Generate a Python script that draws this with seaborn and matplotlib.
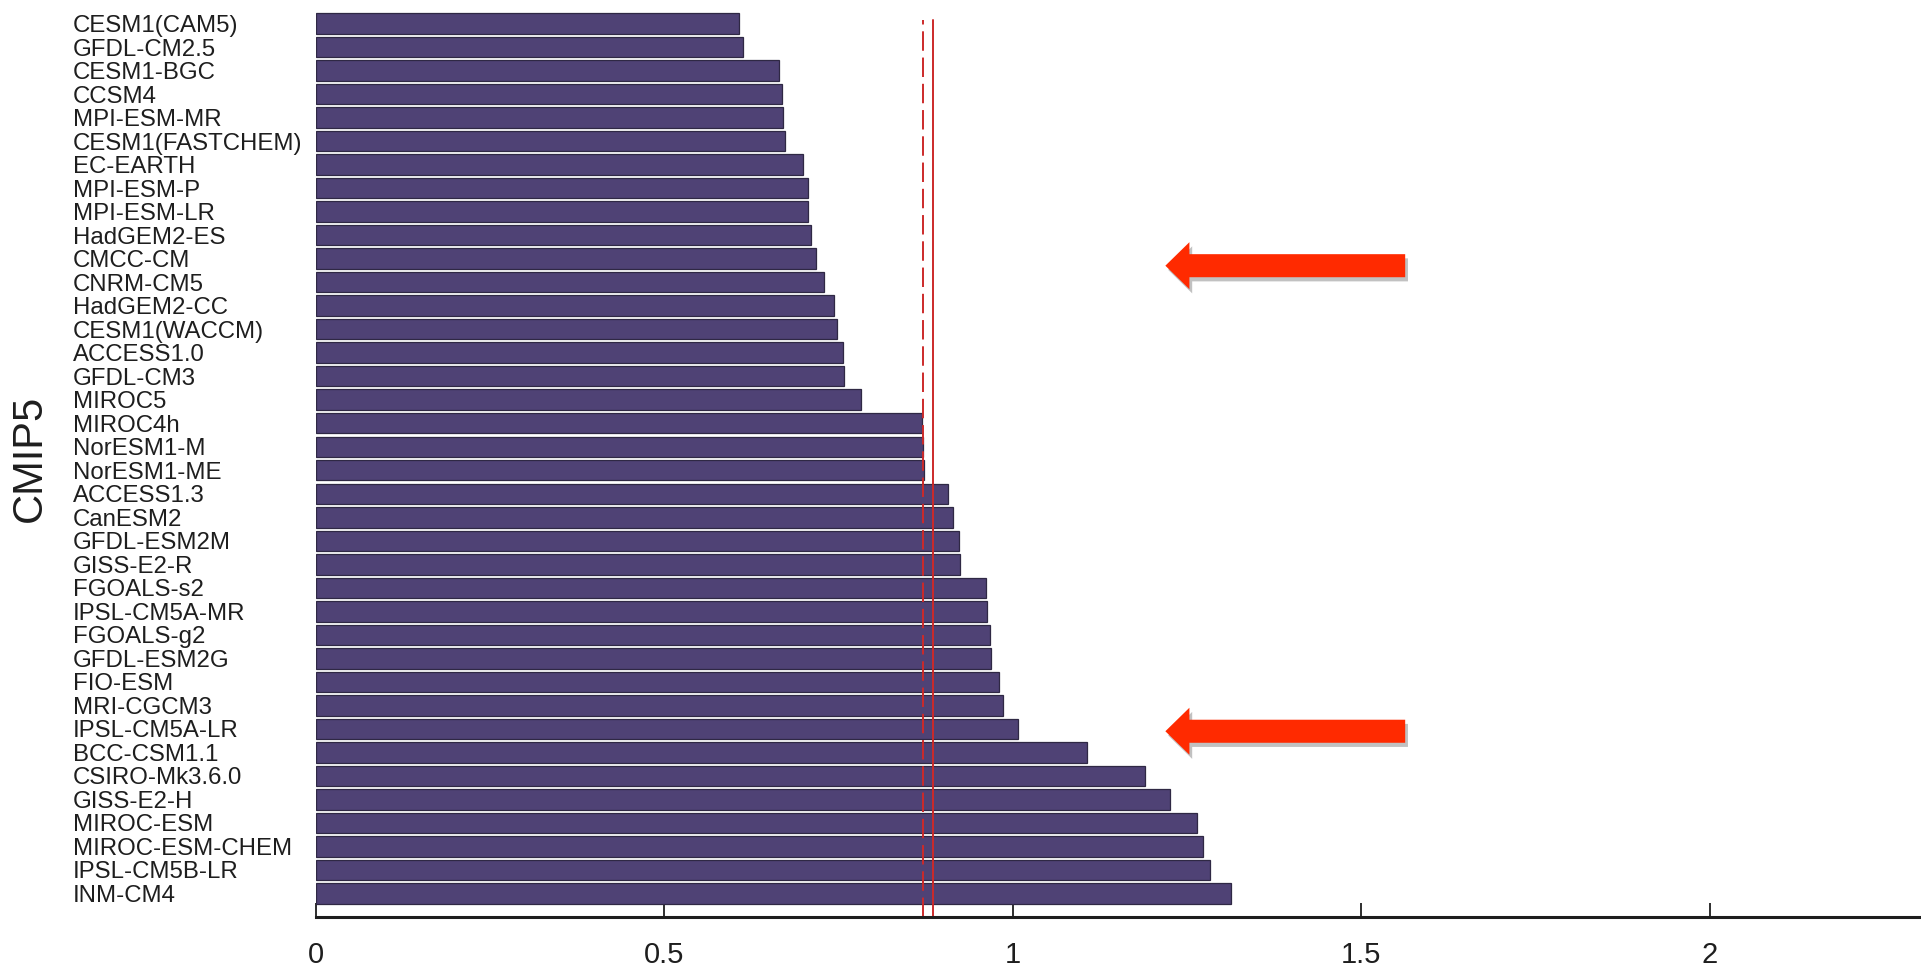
import matplotlib
matplotlib.use("Agg")
import matplotlib.pyplot as plt
import matplotlib.patheffects as pe
from matplotlib.patches import FancyArrow
import seaborn as sns
import pandas as pd

# ---------------- data ----------------
models = [
    "CESM1(CAM5)", "GFDL-CM2.5", "CESM1-BGC", "CCSM4", "MPI-ESM-MR",
    "CESM1(FASTCHEM)", "EC-EARTH", "MPI-ESM-P", "MPI-ESM-LR", "HadGEM2-ES",
    "CMCC-CM", "CNRM-CM5", "HadGEM2-CC", "CESM1(WACCM)", "ACCESS1.0",
    "GFDL-CM3", "MIROC5", "MIROC4h", "NorESM1-M", "NorESM1-ME",
    "ACCESS1.3", "CanESM2", "GFDL-ESM2M", "GISS-E2-R", "FGOALS-s2",
    "IPSL-CM5A-MR", "FGOALS-g2", "GFDL-ESM2G", "FIO-ESM", "MRI-CGCM3",
    "IPSL-CM5A-LR", "BCC-CSM1.1", "CSIRO-Mk3.6.0", "GISS-E2-H", "MIROC-ESM",
    "MIROC-ESM-CHEM", "IPSL-CM5B-LR", "INM-CM4",
]
values = [
    0.607, 0.613, 0.665, 0.669, 0.670,
    0.674, 0.699, 0.706, 0.707, 0.711,
    0.718, 0.730, 0.743, 0.748, 0.756,
    0.758, 0.783, 0.870, 0.872, 0.873,
    0.907, 0.915, 0.923, 0.924, 0.962,
    0.963, 0.968, 0.969, 0.980, 0.986,
    1.008, 1.107, 1.190, 1.225, 1.264,
    1.273, 1.283, 1.313,
]
xticks = [0, 0.5, 1, 1.5, 2]
xtick_labels = ["0", "0.5", "1", "1.5", "2"]
dashed_ref = 0.872   # dashed red reference line
solid_ref = 0.886    # solid red reference line
# arrows: (tail x, tip x, y position in bar-index units)
arrow_tail_x = [1.563, 1.563]
arrow_tip_x = [1.219, 1.219]
arrow_y = [10.3, 30.1]
ylabel = "CMIP5"

# ---------------- style ----------------
sns.set_theme(style="white")
plt.rcParams["font.family"] = ["Liberation Sans", "DejaVu Sans"]

W, H = 1921, 968
fig = plt.figure(figsize=(W / 100, H / 100), dpi=100)
ax = fig.add_axes([315.5 / W, 1 - 917 / H, (1919 - 315.5) / W, 917 / H])

df = pd.DataFrame({"model": models, "value": values})
sns.barplot(data=df, x="value", y="model", orient="h", ax=ax,
            color="#4f4275", saturation=1, width=0.87,
            edgecolor="#2f2844", linewidth=0.9)

ax.set_xlim(0, 2.3)
ax.set_ylim(38, -1)

# reference lines
ax.axvline(dashed_ref, ymin=0, ymax=0.978, color="#cc2a2a", lw=1.4,
           dashes=(10, 3.5), zorder=5)
ax.axvline(solid_ref, ymin=0, ymax=0.978, color="#cc2a2a", lw=1.4, zorder=5)

# arrows
for xt, xh, yy in zip(arrow_tail_x, arrow_tip_x, arrow_y):
    head_len = 0.0345
    arr = FancyArrow(xt, yy, xh - xt, 0, width=0.98, head_width=2.0,
                     head_length=head_len, length_includes_head=True,
                     color="#ff2a00", lw=0, zorder=6)
    arr.set_path_effects([pe.SimplePatchShadow(offset=(2, -3), shadow_rgbFace="#777777", alpha=0.45),
                          pe.Normal()])
    ax.add_patch(arr)

# spines
for s in ["top", "right", "left"]:
    ax.spines[s].set_visible(False)
ax.spines["bottom"].set_linewidth(2.2)
ax.spines["bottom"].set_color("#1e1e1e")
ax.spines["bottom"].set_zorder(7)

# ticks
ax.set_xticks(xticks)
ax.set_xticklabels(xtick_labels)
ax.tick_params(axis="x", bottom=True, direction="in", length=10, width=1.3, color="#1e1e1e",
               labelsize=21, pad=17, labelcolor="#1e1e1e")
ax.tick_params(axis="y", left=False, length=0, labelsize=17.3, pad=174.6, labelcolor="#1e1e1e")
for lab in ax.get_yticklabels():
    lab.set_horizontalalignment("left")

ax.set_xlabel("")
ax.set_ylabel("")
fig.text(30 / W, 1 - 458 / H, ylabel, rotation=90, ha="center", va="center",
         fontsize=30, color="#1e1e1e")

fig.savefig("out.png", dpi=100, facecolor="white")
